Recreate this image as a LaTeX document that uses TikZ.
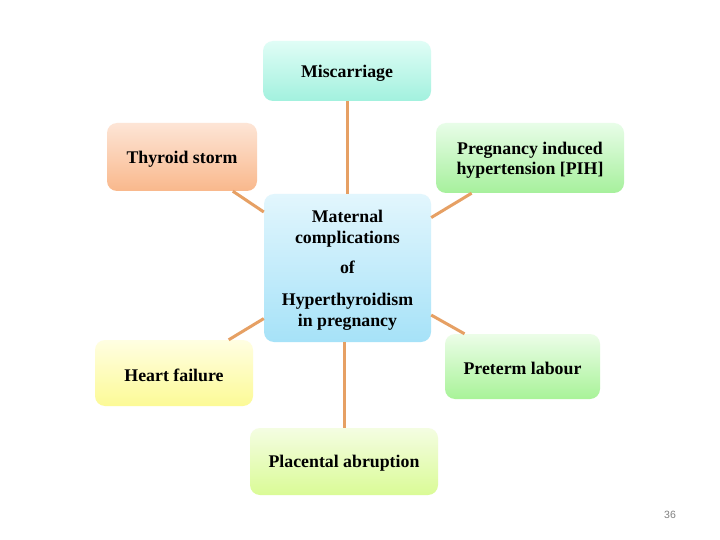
\documentclass[tikz,border=0pt]{standalone}
\usepackage{fontspec}
\setmainfont{Liberation Serif}
\newfontfamily\pgnum{Liberation Sans}
\newcommand\mytopstrut{\rule{0pt}{16.5pt}}
\definecolor{conn}{HTML}{E6A064}
\definecolor{mtop}{HTML}{E0FDF6}\definecolor{mbot}{HTML}{A2F1DE}
\definecolor{ttop}{HTML}{FDE5D6}\definecolor{tbot}{HTML}{F9B88C}
\definecolor{ptop}{HTML}{E8FDE8}\definecolor{pbot}{HTML}{A6F09C}
\definecolor{ctop}{HTML}{E2F6FD}\definecolor{cbot}{HTML}{A6E2F8}
\definecolor{htop}{HTML}{FFFEE2}\definecolor{hbot}{HTML}{FCFA96}
\definecolor{rtop}{HTML}{ECFDE8}\definecolor{rbot}{HTML}{A8F398}
\definecolor{atop}{HTML}{F4FDE2}\definecolor{abot}{HTML}{DAFB96}
\tikzset{
  box/.style={rectangle, rounded corners=10pt, inner sep=0pt, align=center,
    font=\fontsize{17.8}{20}\selectfont\bfseries},
  link/.style={draw=conn, line width=3pt}
}
\begin{document}
\begin{tikzpicture}[x=1pt,y=-1pt]
\useasboundingbox[fill=white] (0,0) rectangle (720,540);
\node[box, top color=mtop, bottom color=mbot, minimum width=168pt, minimum height=60pt] (mis) at (347,71) {\mytopstrut Miscarriage};
\node[box, top color=ttop, bottom color=tbot, minimum width=150pt, minimum height=68pt] (ts) at (182,157) {\mytopstrut Thyroid storm};
\node[box, top color=ptop, bottom color=pbot, minimum width=188pt, minimum height=70pt] (pih) at (530,158) {\mytopstrut Pregnancy induced\\hypertension [PIH]};
\node[box, top color=htop, bottom color=hbot, minimum width=158pt, minimum height=66pt] (hf) at (174,373) {\mytopstrut Heart failure};
\node[box, top color=rtop, bottom color=rbot, minimum width=155pt, minimum height=65pt] (pl) at (522.5,366.5) {\mytopstrut Preterm labour};
\node[box, top color=atop, bottom color=abot, minimum width=188pt, minimum height=67pt] (pa) at (344,461.5) {\mytopstrut Placental abruption};
\node[box, top color=ctop, bottom color=cbot, minimum width=167pt, minimum height=148pt, font=\fontsize{17.8}{21}\selectfont\bfseries] (c) at (347.5,268) {\rule{0pt}{17.5pt}Maternal\\complications\\[9pt]of\\[11pt]Hyperthyroidism\\in pregnancy};
\draw[link] (mis.south) -- (mis.south |- c.north);
\draw[link] (ts) -- (c);
\draw[link] (pih) -- (c);
\draw[link] (hf) -- (c);
\draw[link] (pl) -- (c);
\draw[link] (pa.north) -- (pa.north |- c.south);
\node[font=\pgnum\fontsize{10.5}{12}\selectfont, text=gray] (pg) at (670,515) {36};
\end{tikzpicture}
\end{document}
